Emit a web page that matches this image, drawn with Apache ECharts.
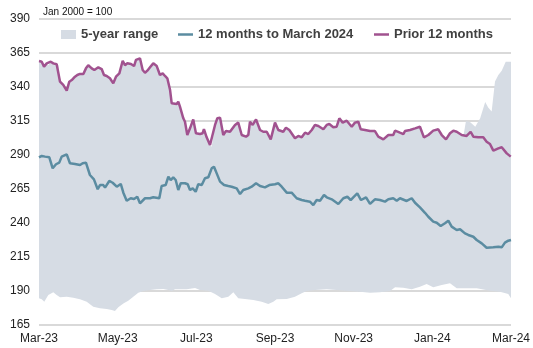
<!DOCTYPE html>
<html><head><meta charset="utf-8">
<script src="https://cdn.jsdelivr.net/npm/echarts@6/dist/echarts.min.js"></script>
<style>html,body{margin:0;padding:0;background:#fff}#c{width:533px;height:348px}</style>
</head><body><div id="c"></div>
<script>
// x = days since 1 Mar 2023
const xTickLabels = ['Mar-23','May-23','Jul-23','Sep-23','Nov-23','Jan-24','Mar-24'];
const yMin = 165, yMax = 390, yStep = 25;

const prior12 = [
[0,359.1],[2.1,358.6],[3.9,355],[6.0,357.4],[7.2,356],[9.1,358.6],[11.1,357.4],[13.7,356.7],[15.0,356],
[16.3,343.9],[18.8,341.5],[21.5,337.3],[23.5,343.9],[25.4,345.1],[27.9,347.6],[29.7,348.8],[31.8,349.6],
[34.4,349.6],[36.4,353.7],[38.2,356],[40.9,353.7],[42.9,352.5],[46.0,354.5],[48.6,353.2],[50.4,348.8],
[52.5,348.1],[55.0,346.4],[57.6,342.7],[59.7,347.6],[62.3,350],[64.9,359.3],[66.7,356],[68.5,357.4],
[71.3,356.9],[73.7,355.4],[75.2,359.9],[78.3,361.1],[80.4,352.5],[82.2,350.5],[84.0,352],[86.1,354.5],
[88.6,357.4],[91.3,355.4],[93.8,348.8],[95.9,350],[97.7,348.1],[99.5,346.4],[101.6,338],[102.9,328],
[106.8,327.5],[108.0,329.2],[109.3,325.5],[111.9,317],[113.2,314.5],[115.0,304.7],[117.1,309.6],
[119.6,316.2],[121.7,306],[124.8,305.4],[126.9,306],[127.9,309.1],[130.0,303],[132.6,297.4],[133.9,296.1],
[136.5,312.1],[138.3,317],[140.4,317.4],[142.9,304.7],[145.0,307.6],[148.1,307.1],[152.0,312.1],
[154.5,313.8],[157.2,304.7],[160.5,303.5],[162.3,304.7],[163.6,314.5],[165.7,312.1],[168.3,316.2],
[171.4,308.4],[173.9,307.1],[176.6,307.1],[179.7,301.5],[183.0,313.8],[185.6,308.4],[189.4,307.1],
[191.5,310.1],[194.1,308.4],[198.5,302.3],[201.1,304],[203.7,303],[206.3,306.4],[208.8,305.4],
[211.5,308.4],[214.0,312.1],[216.6,311.3],[220.5,308.9],[223.1,312.1],[225.1,312.8],[228.2,310.4],
[230.8,310.8],[232.9,317],[235.5,313.8],[238.6,315.2],[242.5,310.8],[245.0,313.8],[247.6,314.5],
[249.5,308.9],[252.8,308.4],[256.7,307.6],[260.5,307.6],[263.1,303.5],[267.0,301.5],[270.9,304.7],
[274.7,304.7],[276.1,307.9],[279.9,306.4],[282.5,305.4],[283.8,307.6],[287.7,308.4],[291.6,309.6],
[295.4,310.8],[298.5,303],[301.9,304.7],[305.7,307.9],[309.6,308.9],[312.3,304.7],[315.6,301.5],
[318.7,306],[321.3,307.9],[323.9,307.1],[327.8,304.7],[331.6,304],[334.7,307.1],[336.8,303.5],
[340.6,303],[344.5,303],[347.1,299.8],[349.7,298.1],[352.3,293.2],[356.2,294.9],[358.8,295.7],
[362.7,291.2],[365.8,288.8]
];

const last12 = [
[0,288.3],[2.1,289.3],[4.7,288.8],[8.0,288.3],[10.6,280.2],[13.2,283.2],[15.7,284.4],[17.6,288.8],
[21.5,290.5],[24.0,283.9],[27.9,283.4],[31.8,282.6],[33.9,283.9],[36.4,284.4],[39.5,275.3],[42.6,272.1],
[45.5,264.8],[47.3,267.9],[49.9,267.9],[51.2,266],[54.5,270.9],[57.1,269.6],[60.3,266.7],[63.4,268.7],
[65.4,262.3],[68.0,256.4],[71.1,258.2],[73.7,257.6],[76.2,259.3],[78.3,254.5],[79.6,253.2],[82.2,258.2],
[86.1,258.2],[88.6,258.9],[93.3,258.2],[95.1,267.2],[98.2,267.9],[100.3,274],[102.1,271.6],[104.1,273.6],
[106.0,271.6],[108.0,264.3],[109.9,269.2],[113.2,269.2],[115.3,268.5],[117.1,264.3],[119.2,265.5],
[121.5,263],[123.5,268.5],[126.2,267.9],[128.7,272.9],[131.3,273.6],[133.9,280.2],[135.7,281.4],
[137.8,276.5],[140.4,270.4],[143.5,267.9],[146.8,267.2],[149.4,266.7],[153.3,265.5],[155.9,261.3],
[158.4,264.3],[162.3,265.5],[164.9,266.7],[168.3,269.2],[171.4,267.2],[175.2,266.2],[178.6,267.9],
[183.0,268.5],[185.6,269.2],[188.2,266.7],[192.1,262.3],[195.9,262.3],[199.8,258.2],[203.7,256.9],
[206.3,256.4],[210.1,255.7],[212.7,253.2],[215.3,256.9],[217.9,256.4],[221.0,260.6],[223.1,258.9],
[227.0,257.4],[232.1,254],[236.0,258.2],[239.1,259.3],[241.7,256.9],[243.7,258.9],[246.8,261.8],
[249.7,256.9],[253.6,258.9],[256.7,254],[260.5,257.4],[264.4,256.9],[268.3,255.7],[270.9,257.4],
[274.7,258.2],[277.4,256.4],[279.9,258.2],[285.1,256.2],[289.0,258.2],[291.6,254.9],[295.4,251.5],
[299.3,247.5],[301.9,244.6],[305.7,241],[308.4,240.2],[311.5,237.8],[314.8,239.8],[317.4,241.7],
[320.0,237.3],[323.9,234.9],[326.5,235.4],[330.3,232.4],[332.9,231.2],[336.8,229.9],[339.4,227.5],
[343.3,225],[347.1,221.8],[352.3,222.1],[356.2,222.6],[358.8,222.1],[361.3,225.6],[363.9,227],[366,227.5]
];

const bandUpper = [
[0,359.1],[2.1,358.6],[3.9,355],[6.0,357.4],[7.2,356],[9.1,358.6],[11.1,357.4],[13.7,356.7],[15.0,356],
[16.3,343.9],[18.8,341.5],[21.5,337.3],[23.5,343.9],[25.4,345.1],[27.9,347.6],[29.7,348.8],[31.8,349.6],
[34.4,349.6],[36.4,353.7],[38.2,356],[40.9,353.7],[42.9,352.5],[46.0,354.5],[48.6,353.2],[50.4,348.8],
[52.5,348.1],[55.0,346.4],[57.6,342.7],[59.7,347.6],[62.3,350],[64.9,359.3],[66.7,356],[68.5,357.4],
[71.3,356.9],[73.7,355.4],[75.2,359.9],[78.3,361.1],[80.4,352.5],[82.2,350.5],[84.0,352],[86.1,354.5],
[88.6,357.4],[91.3,355.4],[93.8,348.8],[95.9,350],[97.7,348.1],[99.5,346.4],[101.6,338],[102.9,328],
[106.8,327.5],[108.0,329.2],[109.3,325.5],[111.9,317],[113.2,314.5],[115.0,304.7],[117.1,309.6],
[119.6,316.2],[121.7,306],[124.8,305.4],[126.9,306],[127.9,309.1],[130.0,303],[132.6,297.4],[133.9,296.1],
[136.5,312.1],[138.3,317],[140.4,317.4],[142.9,304.7],[145.0,307.6],[148.1,307.1],[152.0,312.1],
[154.5,313.8],[157.2,304.7],[160.5,303.5],[162.3,304.7],[163.6,314.5],[165.7,312.1],[168.3,316.2],
[171.4,308.4],[173.9,307.1],[176.6,307.1],[179.7,301.5],[183.0,313.8],[185.6,308.4],[189.4,307.1],
[191.5,310.1],[194.1,308.4],[198.5,302.3],[201.1,304],[203.7,303],[206.3,306.4],[208.8,305.4],
[211.5,308.4],[214.0,312.1],[216.6,311.3],[220.5,308.9],[223.1,312.1],[225.1,312.8],[228.2,310.4],
[230.8,310.8],[232.9,317],[235.5,313.8],[238.6,315.2],[242.5,310.8],[245.0,313.8],[247.6,314.5],
[249.5,308.9],[252.8,308.4],[256.7,307.6],[260.5,307.6],[263.1,303.5],[267.0,301.5],[270.9,304.7],
[274.7,304.7],[276.1,307.9],[279.9,306.4],[282.5,305.4],[283.8,307.6],[287.7,308.4],[291.6,309.6],
[295.4,310.8],[298.5,303],[301.9,304.7],[305.7,307.9],[309.6,308.9],[312.3,304.7],[315.6,301.5],
[318.7,306],[321.3,307.9],[323.9,307.1],[327.8,304.7],[329.3,305],[331.1,315],[334.4,314],[338.3,310.8],
[342.1,317],[346.0,329],[348.3,325],[351.0,322],[353.6,344],[356.2,348.8],[358.8,352],[361.9,358.6],[366,358.6]
];

const bandLower = [
[0,184.6],[2.1,183.9],[4.1,182.1],[7.2,187.1],[11.1,189],[13.7,187.1],[16.3,185.4],[21.5,185.8],
[26.6,185.1],[31.8,183.9],[37.0,182.1],[42.1,178.5],[47.3,177.3],[52.5,176.8],[56.4,176],[58.9,175.3],
[61.5,178],[65.4,180.9],[69.2,182.9],[73.1,185.8],[77.0,188.8],[80.9,190],[86.1,190.7],[91.3,191.2],
[96.4,191.5],[100.3,190.7],[102.9,190],[105.5,191.2],[110.7,191.2],[114.5,191.2],[121.0,192.2],
[124.8,190.7],[131.3,190.2],[136.5,187.8],[141.7,184.6],[146.8,185.8],[150.7,189],[154.5,184.6],
[159.7,184.1],[166.2,183.4],[172.7,182.1],[177.8,180.4],[181.7,182.1],[184.3,183.9],[192.1,184.1],
[198.5,185.8],[203.7,188.3],[207.6,190],[214.0,190.7],[223.1,191.2],[230.8,190.7],[241.2,190],
[248.9,189.5],[256.7,188.8],[264.4,189],[272.2,190],[276.1,192.7],[282.5,192.4],[289.0,191.2],
[295.4,193.2],[300.6,195.1],[305.7,192.7],[312.3,194.4],[318.7,195.7],[323.9,192],[331.6,192],
[339.4,192],[349.7,190.2],[357.5,189.5],[363.9,187.8],[366,184.6]
];

const chart = echarts.init(document.getElementById('c'), null, {renderer:'canvas'});
const FONT = 'Liberation Sans, Arial, sans-serif';
const legendText = {fontFamily:FONT,fontSize:13,fontWeight:'bold',color:'#404040'};
const lineIcon = 'path://M0,0 L15,0 L15,2.5 L0,2.5 Z';
function legendAt(left, item){
  return {left:left,top:28,padding:0,itemWidth:15,itemHeight:9,textStyle:legendText,data:[item]};
}
chart.setOption({
  animation:false,
  backgroundColor:'#ffffff',
  grid:{left:39,right:21,top:19,bottom:23,containLabel:false},
  graphic:[{type:'text',left:43,top:7,style:{text:'Jan 2000 = 100',font:'10px "Liberation Sans Narrow", "Liberation Sans", Arial, sans-serif',fill:'#111'}}],
  legend:[
    legendAt(61,{name:'5-year range',icon:'rect'}),
    legendAt(178,{name:'12 months to March 2024',icon:lineIcon}),
    legendAt(374,{name:'Prior 12 months',icon:lineIcon})
  ],
  xAxis:{type:'value',min:0,max:366,interval:61,
    axisLine:{show:false},axisTick:{show:false},splitLine:{show:false},
    axisLabel:{margin:8,fontFamily:FONT,fontSize:12,color:'#222',showMinLabel:true,showMaxLabel:true,
      formatter:function(v){return xTickLabels[Math.round(v/61)]||'';}}
  },
  yAxis:{type:'value',min:yMin,max:yMax,interval:yStep,
    axisLine:{show:false},axisTick:{show:false},
    splitLine:{lineStyle:{color:'#d9d9d9',width:2}},
    axisLabel:{margin:9,fontFamily:FONT,fontSize:12,color:'#222'}
  },
  series:[
    {name:'5-year range',type:'custom',silent:true,itemStyle:{color:'#d6dce4'},data:[[0,yMin]],
      renderItem:function(params,api){
        if(params.dataIndex!==0) return null;
        const pts=[];
        bandUpper.forEach(p=>pts.push(api.coord(p)));
        for(let i=bandLower.length-1;i>=0;i--) pts.push(api.coord(bandLower[i]));
        return {type:'polygon',shape:{points:pts},style:{fill:'#d6dce4'}};
      }},
    {name:'12 months to March 2024',type:'line',data:last12,symbol:'none',z:3,
      itemStyle:{color:'#5b8ca1'},lineStyle:{color:'#5b8ca1',width:2.5}},
    {name:'Prior 12 months',type:'line',data:prior12,symbol:'none',z:4,
      itemStyle:{color:'#a1528f'},lineStyle:{color:'#a1528f',width:2.5}}
  ]
});
</script></body></html>
